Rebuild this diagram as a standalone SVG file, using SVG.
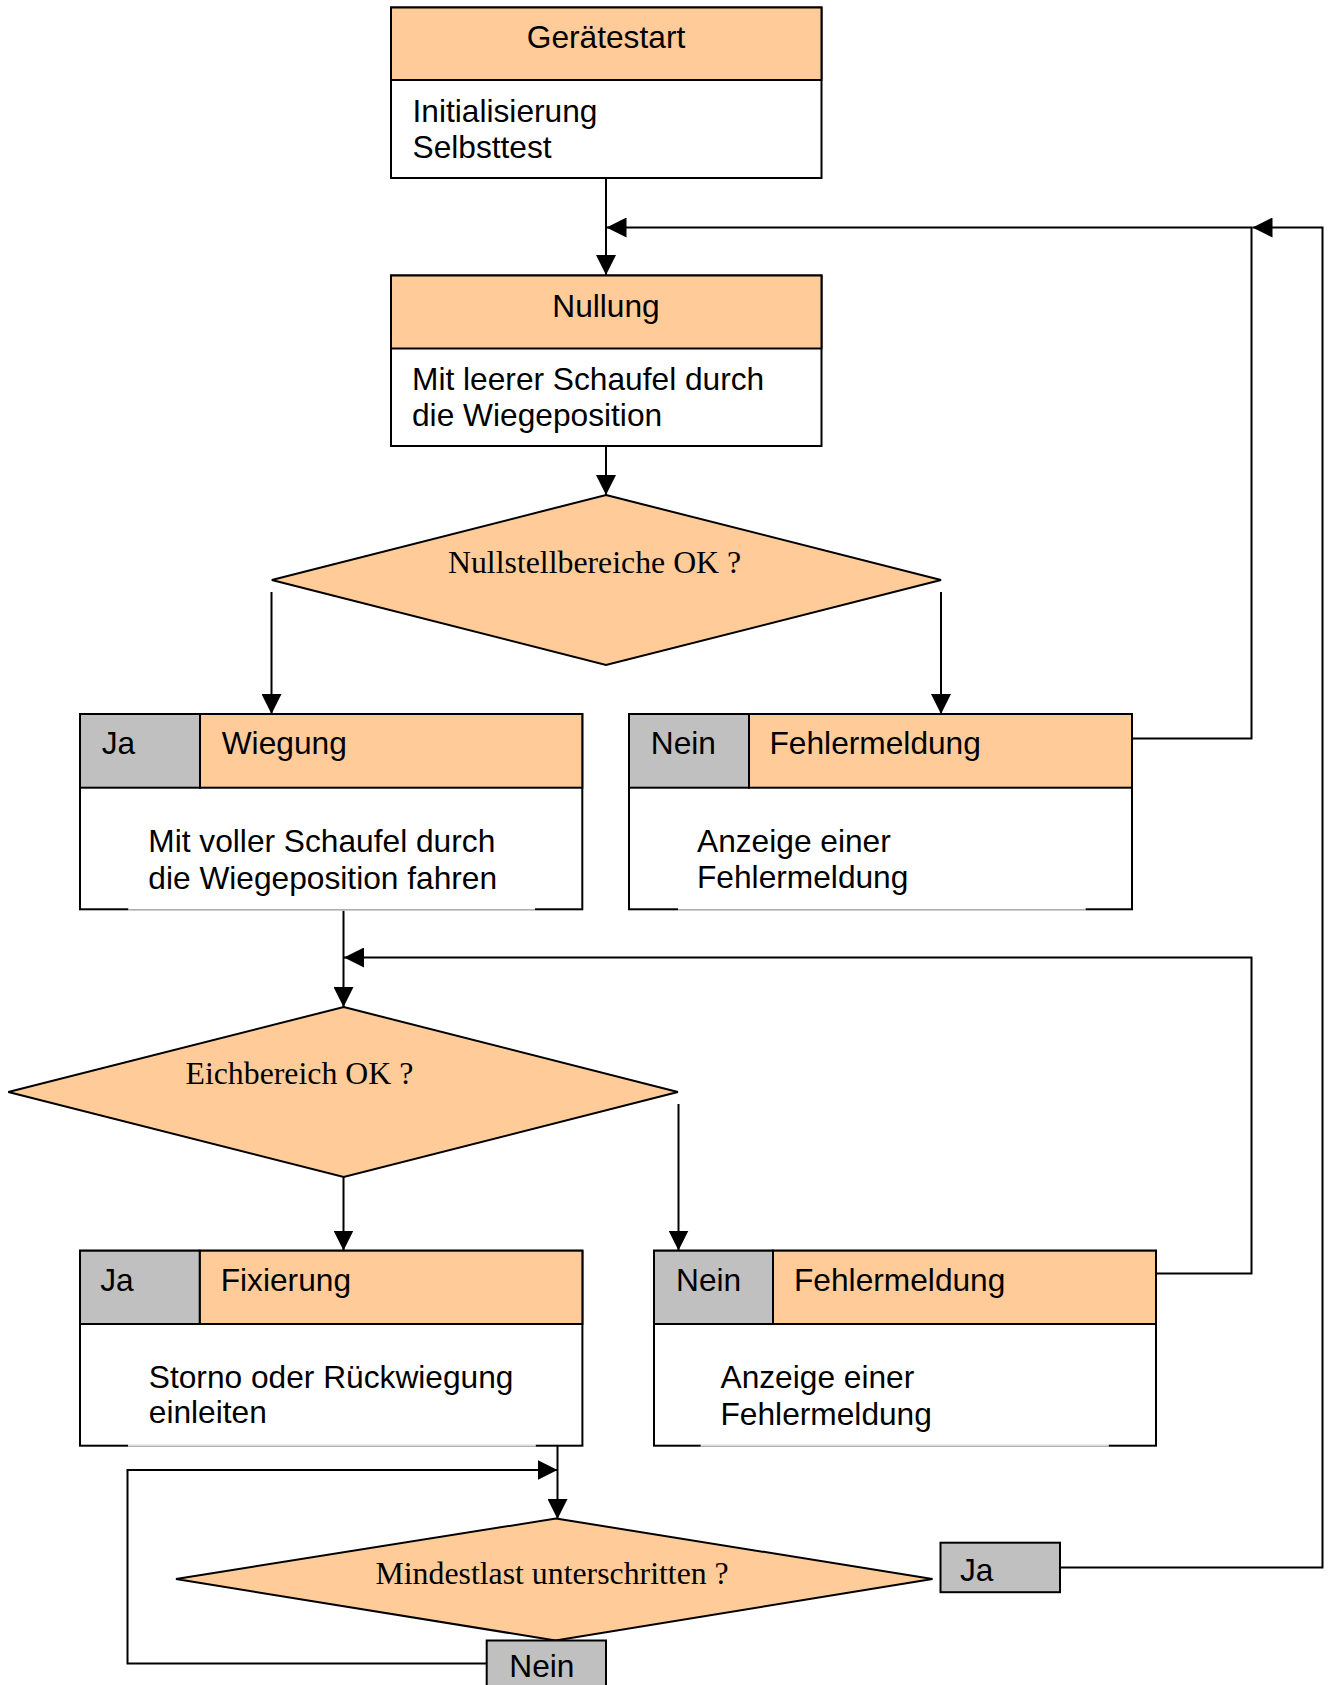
<svg xmlns="http://www.w3.org/2000/svg" width="1330" height="1685" viewBox="0 0 1330 1685">
<style>
.box{fill:#ffffff;stroke:#000;stroke-width:2}
.hdr{fill:#ffcc99;stroke:#000;stroke-width:2}
.gray{fill:#c0c0c0;stroke:#000;stroke-width:2}
.dia{fill:#ffcc99;stroke:#000;stroke-width:2;stroke-linejoin:miter}
.sans{font-family:"Liberation Sans",Arial,sans-serif;font-size:31.7px;fill:#000}
.serif{font-family:"Liberation Serif","Times New Roman",serif;font-size:31.8px;fill:#000}
.conn{fill:none;stroke:#000;stroke-width:2}
.gap{stroke:#ffffff;stroke-width:3}
.thin{stroke:#8c8c8c;stroke-width:1}
</style>
<defs>
<marker id="ah" markerUnits="userSpaceOnUse" markerWidth="20" markerHeight="20" refX="20" refY="10" orient="auto">
<path d="M0,0 L20,10 L0,20 z" fill="#000"/>
</marker>
</defs>
<rect width="1330" height="1685" fill="#ffffff"/>

<g id="connectors">
<path class="conn" d="M606,178 V275" marker-end="url(#ah)"/>
<path class="conn" d="M1132,738.5 H1251.5 V227.5 H606.5" marker-end="url(#ah)"/>
<path class="conn" d="M606,446 V495" marker-end="url(#ah)"/>
<path class="conn" d="M271.5,592 V714" marker-end="url(#ah)"/>
<path class="conn" d="M941,592 V714" marker-end="url(#ah)"/>
<path class="conn" d="M343.5,909 V1007" marker-end="url(#ah)"/>
<path class="conn" d="M1156,1273.5 H1251.5 V957.5 H344" marker-end="url(#ah)"/>
<path class="conn" d="M343.5,1177 V1250.5" marker-end="url(#ah)"/>
<path class="conn" d="M678.5,1104 V1250.5" marker-end="url(#ah)"/>
<path class="conn" d="M557.5,1446 V1519" marker-end="url(#ah)"/>
<path class="conn" d="M486.5,1663.5 H127.5 V1470 H557.5" marker-end="url(#ah)"/>
<path class="conn" d="M1060,1567.5 H1322.5 V227.5 H1252.5" marker-end="url(#ah)"/>
</g>

<g id="geraetestart">
<rect class="box" x="391" y="7.5" width="430.5" height="170.5"/>
<rect class="hdr" x="391" y="7.5" width="430.5" height="72.5"/>
<text class="sans" x="606" y="48.3" text-anchor="middle">Gerätestart</text>
<text class="sans" x="412.5" y="122">Initialisierung</text>
<text class="sans" x="412.5" y="158.3">Selbsttest</text>
</g>

<g id="nullung">
<rect class="box" x="391" y="275.5" width="430.5" height="170.5"/>
<rect class="hdr" x="391" y="275.5" width="430.5" height="73"/>
<text class="sans" x="606" y="316.7" text-anchor="middle">Nullung</text>
<text class="sans" x="412" y="390">Mit leerer Schaufel durch</text>
<text class="sans" x="412" y="425.5">die Wiegeposition</text>
</g>

<g id="nullstellbereiche">
<polygon class="dia" points="606,495 941,580 606,665 271.8,580"/>
<text class="serif" x="448" y="573">Nullstellbereiche OK ?</text>
</g>

<g id="wiegung">
<rect class="box" x="80" y="714" width="502.3" height="195.3"/>
<rect class="hdr" x="200" y="714" width="382.3" height="73.7"/>
<rect class="gray" x="80" y="714" width="120" height="73.7"/>
<line class="gap" x1="128.3" y1="909.3" x2="535" y2="909.3"/>
<line class="thin" x1="128.3" y1="909.8" x2="535" y2="909.8"/>
<text class="sans" x="101.7" y="754.3">Ja</text>
<text class="sans" x="221.7" y="754.3">Wiegung</text>
<text class="sans" x="148.3" y="851.5">Mit voller Schaufel durch</text>
<text class="sans" x="148.3" y="889.3">die Wiegeposition fahren</text>
</g>

<g id="fehler1">
<rect class="box" x="629" y="714" width="503" height="195.3"/>
<rect class="hdr" x="749" y="714" width="383" height="73.7"/>
<rect class="gray" x="629" y="714" width="120" height="73.7"/>
<line class="gap" x1="678" y1="909.3" x2="1085.6" y2="909.3"/>
<line class="thin" x1="678" y1="909.8" x2="1085.6" y2="909.8"/>
<text class="sans" x="650.8" y="754.3">Nein</text>
<text class="sans" x="769.5" y="754.3">Fehlermeldung</text>
<text class="sans" x="697" y="851.5">Anzeige einer</text>
<text class="sans" x="697" y="888.3">Fehlermeldung</text>
</g>

<g id="eichbereich">
<polygon class="dia" points="343.7,1007 677.9,1092 343.7,1177 8.3,1092"/>
<text class="serif" x="185.5" y="1084">Eichbereich OK ?</text>
</g>

<g id="fixierung">
<rect class="box" x="80" y="1250.7" width="502.4" height="195"/>
<rect class="hdr" x="199.7" y="1250.7" width="382.7" height="73.3"/>
<rect class="gray" x="80" y="1250.7" width="119.7" height="73.3"/>
<line class="gap" x1="128" y1="1445.7" x2="535.7" y2="1445.7"/>
<line class="thin" x1="128" y1="1446.2" x2="535.7" y2="1446.2"/>
<text class="sans" x="100.2" y="1291">Ja</text>
<text class="sans" x="220.7" y="1291">Fixierung</text>
<text class="sans" x="148.8" y="1388">Storno oder Rückwiegung</text>
<text class="sans" x="148.8" y="1423.3">einleiten</text>
</g>

<g id="fehler2">
<rect class="box" x="654" y="1250.7" width="502" height="195"/>
<rect class="hdr" x="773" y="1250.7" width="383" height="73.3"/>
<rect class="gray" x="654" y="1250.7" width="119" height="73.3"/>
<line class="gap" x1="700.7" y1="1445.7" x2="1108.7" y2="1445.7"/>
<line class="thin" x1="700.7" y1="1446.2" x2="1108.7" y2="1446.2"/>
<text class="sans" x="676" y="1291">Nein</text>
<text class="sans" x="794" y="1291">Fehlermeldung</text>
<text class="sans" x="720.5" y="1388">Anzeige einer</text>
<text class="sans" x="720.5" y="1425">Fehlermeldung</text>
</g>

<g id="mindestlast">
<polygon class="dia" points="556,1518.5 932.5,1579 555.5,1640.5 176,1579"/>
<text class="serif" x="375.5" y="1584">Mindestlast unterschritten ?</text>
</g>

<g id="ja-box">
<rect class="gray" x="940.5" y="1542.7" width="119.5" height="49.5"/>
<text class="sans" x="960" y="1581">Ja</text>
</g>

<g id="nein-box">
<rect class="gray" x="486.7" y="1640.5" width="119.3" height="70"/>
<text class="sans" x="509.3" y="1677">Nein</text>
</g>
</svg>
